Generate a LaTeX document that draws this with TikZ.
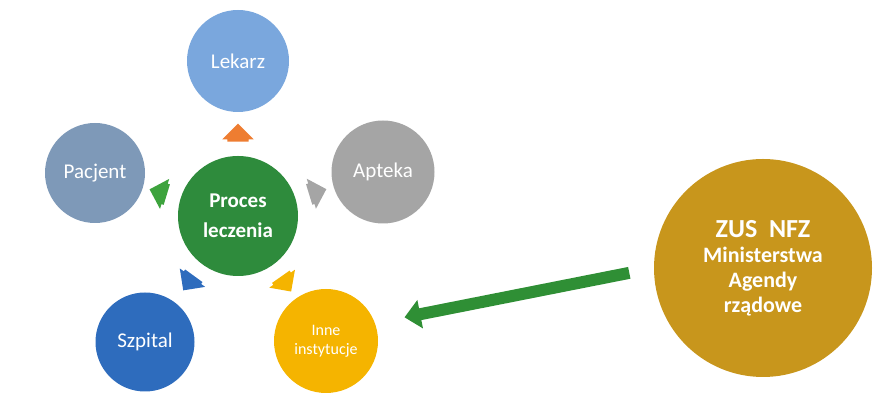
\documentclass[tikz,border=0pt]{standalone}
\usepackage{fontspec}
\setmainfont{Carlito}
\usepackage{xcolor}
\usetikzlibrary{arrows.meta,positioning,calc,shapes.arrows}
\definecolor{procGreen}{HTML}{2E8B3C}
\definecolor{lekarzBlue}{HTML}{7AA7DD}
\definecolor{pacjentSlate}{HTML}{7E99B8}
\definecolor{aptekaGray}{HTML}{A5A5A5}
\definecolor{szpitalBlue}{HTML}{2E6CBD}
\definecolor{inneYellow}{HTML}{F5B400}
\definecolor{zusGold}{HTML}{C8961C}
\definecolor{arrOrange}{HTML}{EE7D31}
\definecolor{arrGreen}{HTML}{3DA33D}
\definecolor{bigGreen}{HTML}{2F8F35}

\begin{document}
\begin{tikzpicture}[x=1pt,y=1pt,
    party/.style={circle,inner sep=0pt,text=white,align=center,
                  font=\fontsize{21}{24}\selectfont},
    pointer/.style={single arrow,draw=none,inner xsep=0pt,inner ysep=10.5pt,
                    minimum height=18pt,
                    single arrow head extend=5pt},
    bigarrow/.style={draw=bigGreen,line width=12pt,
                     -{Triangle[length=16pt,width=28pt]}}]
    \useasboundingbox (0,0) rectangle (895,419);
    % centre and the parties round it
    \node[party,fill=procGreen,minimum size=120pt,
          font=\bfseries\fontsize{21}{30}\selectfont] (proc) at (238,203) {Proces\\leczenia};
    \node[party,fill=lekarzBlue,minimum size=102pt] (lek) at (238,358) {Lekarz};
    \node[party,fill=pacjentSlate,minimum size=100pt] (pac) at (95,246) {Pacjent};
    \node[party,fill=aptekaGray,minimum size=103pt] (apt) at (383,247) {Apteka};
    \node[party,fill=szpitalBlue,minimum size=99pt] (szp) at (145,77) {Szpital};
    \node[party,fill=inneYellow,minimum size=104pt,
          font=\fontsize{16}{19}\selectfont] (inne) at (326,78) {Inne\\instytucje};
    \node[party,fill=zusGold,minimum size=218pt,
          font=\bfseries\fontsize{22}{25}\selectfont] (zus) at (763,151)
          {{\fontsize{26}{26}\selectfont ZUS\ \ NFZ}\\Ministerstwa\\Agendy\\rządowe};
    % small arrows out of the centre
    \node[pointer,fill=arrOrange,rotate=90] (to-lek) at ($(proc)!78pt!(lek)$) {};
    \node[pointer,fill=arrGreen,rotate=163] (to-pac) at ($(proc)!78pt!(pac)$) {};
    \node[pointer,fill=aptekaGray,rotate=17] (to-apt) at ($(proc)!78pt!(apt)$) {};
    \node[pointer,fill=szpitalBlue,rotate=234] (to-szp) at ($(proc)!78pt!(szp)$) {};
    \node[pointer,fill=inneYellow,rotate=305] (to-inne) at ($(proc)!78pt!(inne)$) {};
    % outside bodies
    \draw[bigarrow,shorten <=25pt,shorten >=30pt] (zus.west) -- (inne.20);
\end{tikzpicture}
\end{document}
